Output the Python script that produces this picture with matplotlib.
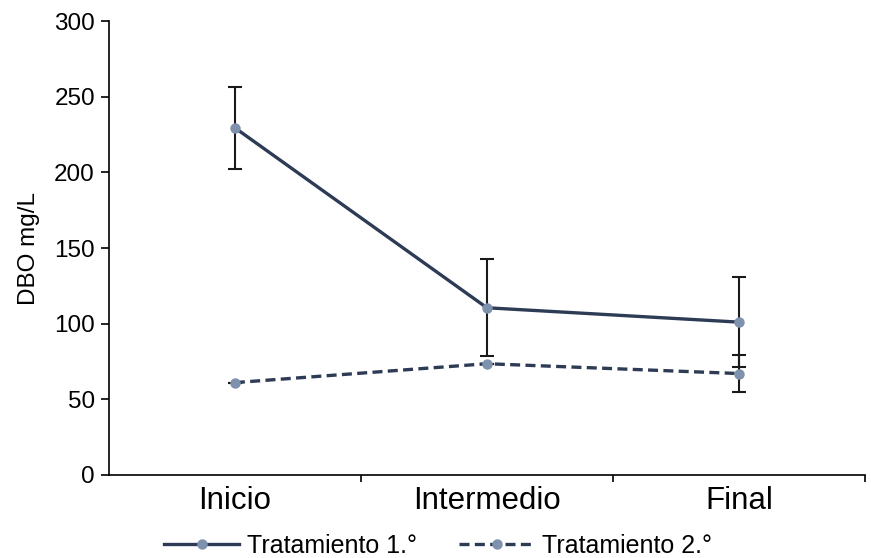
import matplotlib
matplotlib.use("Agg")
import matplotlib.pyplot as plt
from matplotlib.lines import Line2D

plt.rcParams['font.family'] = ['Liberation Sans', 'DejaVu Sans']

etapas = ["Inicio", "Intermedio", "Final"]
trat1 = [229.5, 110.5, 101.0]
trat1_err = [27.0, 32.0, 30.0]
trat2 = [61.0, 73.5, 67.0]
trat2_err = [0.0, 0.0, 12.0]
y_ticks = [0, 50, 100, 150, 200, 250, 300]

line_color = "#2d3b55"
marker_color = "#7f92ad"

fig = plt.figure(figsize=(8.71, 5.58), dpi=100)
ax = fig.add_axes([0.125, 0.149, 0.868, 0.813])

x = list(range(len(etapas)))

ax.errorbar(x, trat1, yerr=trat1_err, fmt="none", ecolor="#1a1a1a",
            elinewidth=1.5, capsize=5, capthick=1.5, zorder=2)
ax.errorbar(x, trat2, yerr=trat2_err, fmt="none", ecolor="#1a1a1a",
            elinewidth=1.5, capsize=5, capthick=1.5, zorder=2)

ax.plot(x, trat1, color=line_color, lw=2.4, marker="o", ms=6.5,
        mfc=marker_color, mec=marker_color, zorder=3)
ax.plot(x, trat2, color=line_color, lw=2.4, ls=(0, (3, 1.6)), marker="o",
        ms=6.5, mfc=marker_color, mec=marker_color, zorder=3)

ax.set_xlim(-0.5, 2.5)
ax.set_ylim(0, 300)
ax.set_yticks(y_ticks)
ax.tick_params(axis="y", labelsize=17.5, length=6, width=1.2,
               direction="out", pad=4)
ax.set_xticks(x)
ax.set_xticklabels(etapas, fontsize=22.5)
ax.tick_params(axis="x", which="major", length=0, pad=8)
ax.set_xticks([0.5, 1.5, 2.5], minor=True)
ax.tick_params(axis="x", which="minor", length=5, width=1.2, direction="out")

ax.set_ylabel("DBO mg/L", fontsize=17.5)
ax.yaxis.set_label_coords(-0.091, 0.5)

for side in ("top", "right"):
    ax.spines[side].set_visible(False)
for side in ("left", "bottom"):
    ax.spines[side].set_linewidth(1.2)

handles = [
    Line2D([], [], color=line_color, lw=2.4, marker="o", ms=6.5,
           mfc=marker_color, mec=marker_color),
    Line2D([], [], color=line_color, lw=2.4, ls=(0, (3, 1.6)), marker="o",
           ms=6.5, mfc=marker_color, mec=marker_color),
]
fig.legend(handles, ["Tratamiento 1.°", "Tratamiento 2.°"], loc="center",
           bbox_to_anchor=(0.503, 0.022), ncol=2, frameon=False, fontsize=18,
           handlelength=3.0, handletextpad=0.3, columnspacing=1.7,
           borderpad=0.1)

fig.savefig("out.png", dpi=100)
